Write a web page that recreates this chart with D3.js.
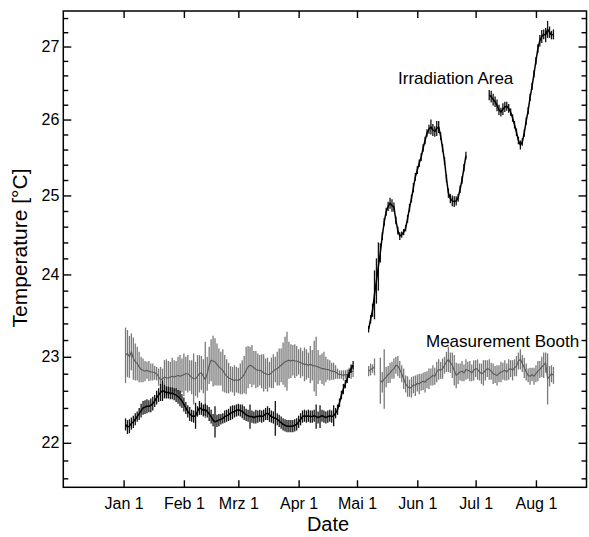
<!DOCTYPE html>
<html>
<head>
<meta charset="utf-8">
<script src="https://cdn.jsdelivr.net/npm/d3@7/dist/d3.min.js"></script>
<style>
    body { margin: 0; background: #fff; }
    #chart text { font-family: "Liberation Sans", Arial, sans-serif; fill: #000; }
</style>
</head>
<body>
<div id="chart"></div>
<script>
// tick dates and their (german) labels
const monthTicks = ["2013-01-01", "2013-02-01", "2013-03-01", "2013-04-01", "2013-05-01", "2013-06-01", "2013-07-01", "2013-08-01"];
const monthLabels = ["Jan 1", "Feb 1", "Mrz 1", "Apr 1", "Mai 1", "Jun 1", "Jul 1", "Aug 1"];
const tempTicks = [22, 23, 24, 25, 26, 27];

// Irradiation Area, daily means and error, three runs
const irrStart1 = "2013-01-02";
const irrMean1 = [22.21,22.18,22.19,22.22,22.24,22.27,22.30,22.33,22.37,22.40,22.41,22.42,22.42,22.43,22.45,22.48,22.52,22.55,22.58,22.60,
    22.59,22.58,22.58,22.57,22.57,22.56,22.55,22.53,22.51,22.48,22.44,22.40,22.36,22.33,22.31,22.30,22.31,22.36,22.40,22.39,
    22.37,22.38,22.36,22.33,22.30,22.26,22.24,22.25,22.26,22.27,22.28,22.30,22.31,22.32,22.34,22.35,22.36,22.37,22.38,22.37,
    22.36,22.34,22.32,22.31,22.30,22.30,22.29,22.30,22.30,22.31,22.30,22.31,22.33,22.34,22.32,22.30,22.29,22.28,22.27,22.25,
    22.23,22.21,22.20,22.19,22.19,22.19,22.19,22.20,22.21,22.24,22.27,22.30,22.31,22.30,22.31,22.30,22.30,22.31,22.30,22.29,
    22.30,22.31,22.30,22.29,22.30,22.31,22.30,22.31,22.34,22.38,22.46,22.55,22.62,22.68,22.74,22.80,22.86,22.90];
const irrErr1 = [0.07,0.08,0.08,0.07,0.07,0.07,0.06,0.07,0.08,0.08,0.08,0.08,0.07,0.08,0.08,0.07,0.08,0.08,0.10,0.12,
    0.08,0.07,0.07,0.07,0.07,0.07,0.08,0.08,0.09,0.08,0.08,0.07,0.07,0.08,0.07,0.07,0.15,0.06,0.08,0.07,
    0.07,0.07,0.07,0.08,0.08,0.07,0.18,0.07,0.07,0.06,0.06,0.07,0.07,0.07,0.08,0.08,0.07,0.07,0.07,0.07,
    0.08,0.08,0.07,0.07,0.14,0.07,0.07,0.08,0.07,0.07,0.07,0.07,0.07,0.08,0.08,0.07,0.07,0.20,0.07,0.07,
    0.07,0.07,0.07,0.07,0.07,0.07,0.07,0.07,0.07,0.07,0.07,0.07,0.07,0.07,0.07,0.07,0.07,0.07,0.14,0.07,
    0.13,0.07,0.07,0.07,0.07,0.07,0.07,0.12,0.06,0.06,0.05,0.05,0.06,0.05,0.05,0.05,0.05,0.05];

const irrStart2 = "2013-05-07";
const irrMean2 = [23.33,23.45,23.56,23.75,23.92,24.10,24.27,24.48,24.66,24.79,24.86,24.90,24.87,24.85,24.68,24.55,24.48,24.50,24.53,24.58,
    24.70,24.84,24.96,25.10,25.24,25.33,25.42,25.50,25.62,25.72,25.82,25.87,25.90,25.86,25.84,25.88,25.90,25.78,25.62,25.45,
    25.22,25.03,24.96,24.93,24.92,24.93,24.97,25.08,25.20,25.36,25.52];
const irrErr2 = [0.04,0.05,0.08,0.30,0.28,0.30,0.12,0.05,0.05,0.05,0.06,0.07,0.08,0.06,0.05,0.05,0.05,0.04,0.04,0.04,
    0.05,0.05,0.05,0.06,0.05,0.05,0.05,0.05,0.05,0.05,0.05,0.06,0.10,0.08,0.07,0.10,0.08,0.05,0.05,0.05,
    0.05,0.06,0.06,0.07,0.07,0.06,0.05,0.05,0.05,0.05,0.05];

const irrStart3 = "2013-07-08";
const irrMean3 = [26.33,26.31,26.27,26.24,26.19,26.13,26.10,26.14,26.17,26.18,26.15,26.10,26.02,25.93,25.83,25.72,25.66,25.70,25.82,25.98,
    26.12,26.30,26.45,26.62,26.80,26.97,27.08,27.14,27.17,27.16,27.24,27.20,27.16,27.17];
const irrErr3 = [0.07,0.08,0.08,0.07,0.08,0.07,0.06,0.08,0.07,0.06,0.06,0.05,0.05,0.05,0.05,0.05,0.06,0.05,0.05,0.05,
    0.05,0.05,0.05,0.05,0.05,0.06,0.08,0.09,0.07,0.10,0.12,0.08,0.06,0.07];

// Measurement Booth, daily means and error, three runs
const boothStart1 = "2013-01-02";
const boothMean1 = [23.02,23.04,23.00,23.06,22.98,22.94,22.92,22.88,22.85,22.84,22.83,22.84,22.83,22.82,22.82,22.81,22.80,22.76,22.73,22.74,
    22.76,22.75,22.75,22.76,22.77,22.76,22.77,22.78,22.77,22.78,22.79,22.80,22.80,22.78,22.76,22.74,22.74,22.77,22.80,22.81,
    22.77,22.73,22.80,22.90,22.96,22.95,22.94,22.91,22.88,22.86,22.84,22.80,22.77,22.75,22.74,22.73,22.72,22.73,22.72,22.74,
    22.76,22.79,22.84,22.88,22.90,22.89,22.87,22.85,22.84,22.84,22.83,22.81,22.80,22.79,22.79,22.81,22.83,22.85,22.86,22.88,
    22.90,22.92,22.94,22.95,22.96,22.95,22.96,22.95,22.95,22.94,22.93,22.92,22.91,22.91,22.90,22.91,22.90,22.89,22.89,22.88,
    22.87,22.86,22.86,22.85,22.85,22.84,22.83,22.83,22.82,22.80,22.79,22.79,22.78,22.79,22.79,22.81,22.82,22.83];
const boothErr1 = [0.33,0.28,0.25,0.22,0.25,0.22,0.20,0.18,0.15,0.14,0.12,0.10,0.12,0.10,0.10,0.08,0.08,0.10,0.15,0.12,
    0.20,0.22,0.20,0.18,0.22,0.20,0.18,0.22,0.25,0.20,0.25,0.20,0.22,0.18,0.20,0.30,0.20,0.25,0.22,0.20,
    0.20,0.45,0.20,0.22,0.25,0.30,0.28,0.25,0.22,0.20,0.25,0.22,0.20,0.18,0.15,0.15,0.18,0.15,0.15,0.18,
    0.20,0.22,0.28,0.25,0.22,0.25,0.20,0.22,0.20,0.18,0.20,0.22,0.18,0.20,0.15,0.18,0.20,0.15,0.20,0.22,
    0.20,0.25,0.30,0.35,0.22,0.20,0.18,0.20,0.18,0.15,0.18,0.15,0.20,0.18,0.15,0.22,0.18,0.30,0.35,0.20,
    0.15,0.18,0.20,0.15,0.12,0.12,0.10,0.10,0.08,0.06,0.05,0.05,0.06,0.05,0.06,0.06,0.08,0.07];

const boothStart2 = "2013-05-07";
const boothMean2 = [22.83,22.85,22.86,22.88];
const boothErr2 = [0.06,0.07,0.05,0.10];

const boothStart3 = "2013-05-13";
const boothMean3 = [22.72,22.70,22.74,22.76,22.79,22.81,22.84,22.86,22.90,22.89,22.85,22.80,22.74,22.68,22.65,22.63,22.64,22.67,22.66,22.69,
    22.68,22.70,22.71,22.70,22.73,22.74,22.76,22.78,22.77,22.82,22.85,22.84,22.86,22.90,22.94,22.97,22.93,22.90,22.84,22.78,
    22.80,22.82,22.83,22.81,22.85,22.84,22.83,22.81,22.84,22.86,22.85,22.82,22.80,22.81,22.84,22.86,22.85,22.83,22.80,22.79,
    22.78,22.80,22.82,22.83,22.84,22.82,22.85,22.86,22.84,22.87,22.89,22.95,22.97,22.92,22.87,22.82,22.78,22.77,22.79,22.77,
    22.80,22.83,22.85,22.88,22.90,22.93,22.74,22.77,22.80,22.78];
const boothErr3 = [0.27,0.12,0.35,0.12,0.10,0.12,0.10,0.12,0.10,0.12,0.10,0.10,0.12,0.10,0.12,0.10,0.12,0.10,0.12,0.10,
    0.12,0.10,0.10,0.12,0.10,0.12,0.10,0.12,0.10,0.12,0.12,0.10,0.12,0.10,0.12,0.15,0.12,0.15,0.18,0.15,
    0.12,0.10,0.12,0.10,0.12,0.10,0.12,0.10,0.12,0.10,0.12,0.10,0.12,0.15,0.12,0.10,0.12,0.10,0.12,0.10,
    0.12,0.10,0.12,0.10,0.12,0.10,0.12,0.10,0.12,0.10,0.12,0.10,0.12,0.10,0.12,0.10,0.08,0.10,0.08,0.10,
    0.10,0.12,0.10,0.12,0.15,0.12,0.30,0.12,0.10,0.10];

renderChart(document.querySelector("#chart"));

function toRun(start, means, errs){
    const first = new Date(start + "T00:00:00Z");
    return means.map((m, i) => ({date: d3.utcDay.offset(first, i), mean: m, err: errs[i]}));
}

function renderChart(parent){
    const width = 589;
    const height = 537;
    const left = 63.3, right = 586.5, top = 11, bottom = 487.3;

    const svg = d3.select(parent)
        .append("svg")
        .attr("width", width)
        .attr("height", height)
        .style("display", "block");

    const x = d3.scaleUtc()
        .domain([new Date("2012-12-01T00:00:00Z"), new Date("2013-08-27T00:00:00Z")])
        .range([left, right]);

    const y = d3.scaleLog()
        .domain([21.5, 27.5])
        .range([bottom, top]);

    const tickDates = monthTicks.map(d => new Date(d + "T00:00:00Z"));
    const minorTicks = d3.range(21.6, 27.45, 0.2).map(v => +v.toFixed(1)).filter(v => !tempTicks.includes(v));

    const booth = [
        toRun(boothStart1, boothMean1, boothErr1),
        toRun(boothStart2, boothMean2, boothErr2),
        toRun(boothStart3, boothMean3, boothErr3)
    ];
    const irr = [
        toRun(irrStart1, irrMean1, irrErr1),
        toRun(irrStart2, irrMean2, irrErr2),
        toRun(irrStart3, irrMean3, irrErr3)
    ];

    drawRuns(svg, booth, x, y, "#7a7a7a", "#5a5a5a", 1.1);
    drawRuns(svg, irr, x, y, "#111", "#000", 1.5);

    // axes, ticks pointing inward on all four sides
    const fontFamily = "Liberation Sans, Arial, sans-serif";

    svg.append("g")
        .attr("transform", `translate(0,${bottom})`)
        .call(d3.axisBottom(x).tickValues(tickDates).tickSize(-7).tickPadding(10)
            .tickFormat((d, i) => monthLabels[i]))
        .call(g => g.select(".domain").remove())
        .attr("font-size", 16).attr("font-family", fontFamily);

    svg.append("g")
        .attr("transform", `translate(0,${top})`)
        .call(d3.axisTop(x).tickValues(tickDates).tickSize(-7).tickFormat(""))
        .call(g => g.select(".domain").remove());

    svg.append("g")
        .attr("transform", `translate(${left},0)`)
        .call(d3.axisLeft(y).tickValues(tempTicks).tickSize(-8).tickPadding(4).tickFormat(d3.format("d")))
        .call(g => g.select(".domain").remove())
        .attr("font-size", 16).attr("font-family", fontFamily);

    svg.append("g")
        .attr("transform", `translate(${left},0)`)
        .call(d3.axisLeft(y).tickValues(minorTicks).tickSize(-5).tickFormat(""))
        .call(g => g.select(".domain").remove());

    svg.append("g")
        .attr("transform", `translate(${right},0)`)
        .call(d3.axisRight(y).tickValues(tempTicks).tickSize(-8).tickFormat(""))
        .call(g => g.select(".domain").remove());

    svg.append("g")
        .attr("transform", `translate(${right},0)`)
        .call(d3.axisRight(y).tickValues(minorTicks).tickSize(-5).tickFormat(""))
        .call(g => g.select(".domain").remove());

    svg.selectAll(".tick line").attr("stroke-width", 1.4);

    svg.append("rect")
        .attr("x", left)
        .attr("y", top)
        .attr("width", right - left)
        .attr("height", bottom - top)
        .attr("fill", "none")
        .attr("stroke", "#000")
        .attr("stroke-width", 1.5);

    svg.append("text")
        .attr("x", 328)
        .attr("y", 531)
        .attr("text-anchor", "middle")
        .attr("font-size", 20)
        .text("Date");

    svg.append("text")
        .attr("transform", "translate(27,248) rotate(-90)")
        .attr("text-anchor", "middle")
        .attr("font-size", 21)
        .text("Temperature [°C]");

    svg.append("text")
        .attr("x", 398)
        .attr("y", 83.5)
        .attr("font-size", 17)
        .text("Irradiation Area");

    svg.append("text")
        .attr("x", 426)
        .attr("y", 347)
        .attr("font-size", 17)
        .text("Measurement Booth");
}

function drawRuns(svg, runs, x, y, barColor, lineColor, lineWidth){
    const g = svg.append("g");
    const line = d3.line()
        .x(d => x(d.date))
        .y(d => y(d.mean));

    runs.forEach(run => {
        g.append("g")
            .selectAll("line")
            .data(run)
            .join("line")
            .attr("x1", d => x(d.date))
            .attr("x2", d => x(d.date))
            .attr("y1", d => y(d.mean - d.err))
            .attr("y2", d => y(d.mean + d.err))
            .attr("stroke", barColor)
            .attr("stroke-width", 1.3);

        g.append("path")
            .datum(run)
            .attr("d", line)
            .attr("fill", "none")
            .attr("stroke", lineColor)
            .attr("stroke-width", lineWidth)
            .attr("stroke-linejoin", "round");
    });
}
</script>
</body>
</html>
